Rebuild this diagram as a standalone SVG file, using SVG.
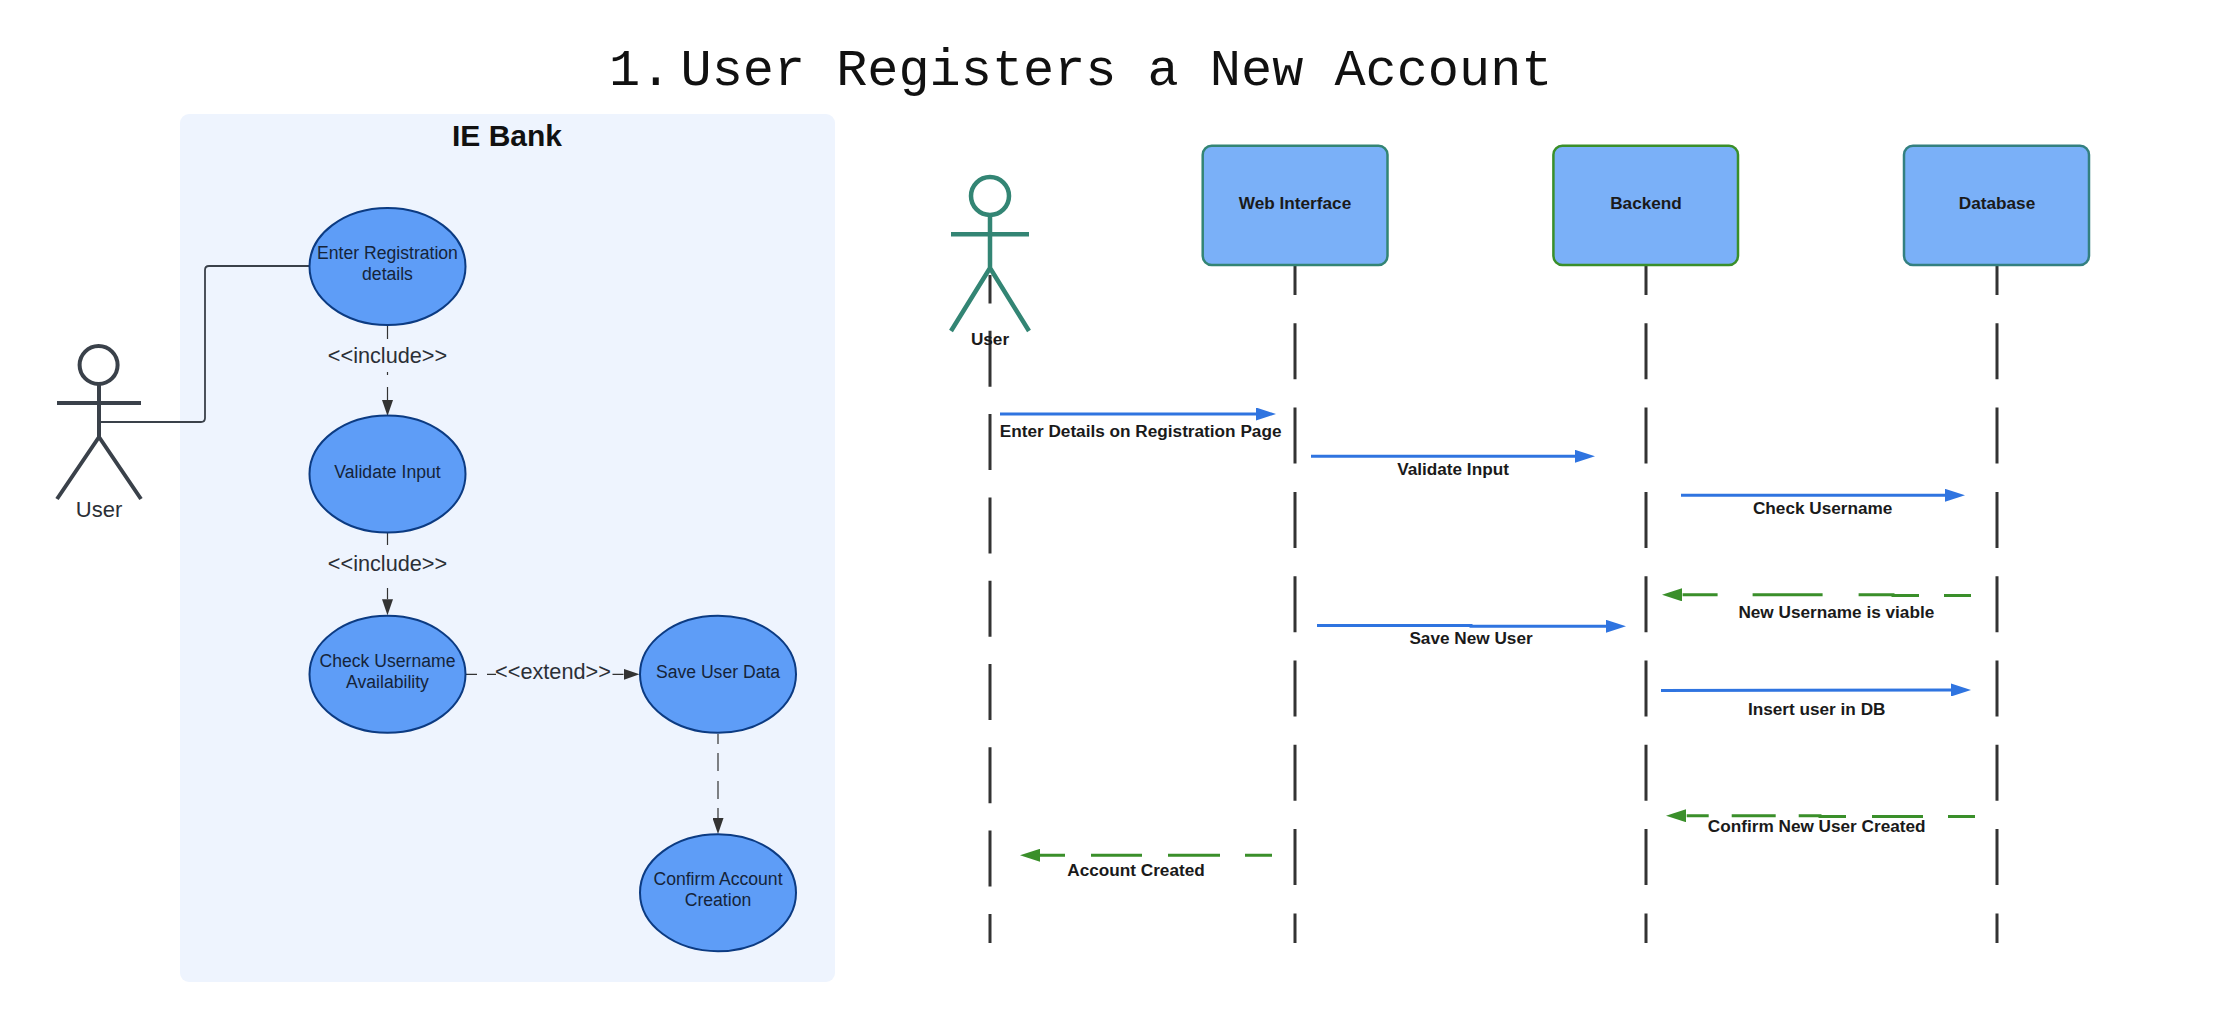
<svg xmlns="http://www.w3.org/2000/svg" width="2222" height="1022" viewBox="0 0 2222 1022">
<style>
text{font-family:"Liberation Sans",Arial,sans-serif;text-anchor:middle}
.title{font-family:"Liberation Mono","Courier New",monospace;font-size:51.9px;fill:#111;text-anchor:start}
.uc{fill:#5e9df7;stroke:#0c3b82;stroke-width:2}
.uct{font-size:17.6px;fill:#15243a}
.stereo{font-size:21.7px;fill:#2b2f36}
.ln{fill:none;stroke:#333;stroke-width:1.2}
.actor1{fill:none;stroke:#3a414a;stroke-width:4}
.actor2{fill:none;stroke:#338574;stroke-width:4.5}
.box{fill:#7ab0f8;stroke-width:2.5}
.b{font-size:17.2px;font-weight:bold;fill:#1a1a1a}
.life{stroke:#333;stroke-width:3;fill:none;stroke-dasharray:56 28.3}
.lifeu{stroke:#333;stroke-width:3;fill:none;stroke-dasharray:56 27.3}
.blue{stroke:#2f74e0;stroke-width:3;fill:none;marker-end:url(#mb)}
.green{stroke:#3a8f2a;stroke-width:3;fill:none;marker-end:url(#mg)}
</style>
<defs>
<marker id="md" markerUnits="userSpaceOnUse" markerWidth="16" markerHeight="11" refX="0" refY="5.5" orient="auto"><path d="M0 0L16 5.5L0 11z" fill="#333"/></marker>
<marker id="mb" markerUnits="userSpaceOnUse" markerWidth="20" markerHeight="13" refX="0" refY="6.5" orient="auto"><path d="M0 0L20 6.5L0 13z" fill="#2f74e0"/></marker>
<marker id="mg" markerUnits="userSpaceOnUse" markerWidth="20" markerHeight="13" refX="0" refY="6.5" orient="auto"><path d="M0 0L20 6.5L0 13z" fill="#3a8f2a"/></marker>
</defs>
<rect width="2222" height="1022" fill="#fff"/>
<text class="title" y="85"><tspan x="609">1.</tspan><tspan x="680.5">User Registers a New Account</tspan></text>
<g id="system"><rect x="180" y="114" width="655" height="868" rx="9" fill="#eef4fe"/><text x="507" y="146" font-size="30" font-weight="bold" fill="#111">IE Bank</text></g>

<g id="connectors">
<path class="ln" style="stroke:#3a414a;stroke-width:1.8" d="M101 422H201Q205 422 205 418V270Q205 266 209 266H310"/>
<line class="ln" x1="387.5" y1="326" x2="387.5" y2="400" stroke-dasharray="13 33 3 12 14" marker-end="url(#md)"/>
<line class="ln" x1="387.5" y1="533" x2="387.5" y2="599.3" stroke-dasharray="12 43 12" marker-end="url(#md)"/>
<line class="ln" x1="466" y1="674.3" x2="623.5" y2="674.3" stroke-dasharray="11 10 9 116.5 11" marker-end="url(#md)"/>
<line class="ln" x1="718" y1="734" x2="718" y2="818" stroke-dasharray="10 9 18 10 18 9 10" marker-end="url(#md)"/>
<line class="lifeu" x1="990" y1="275" x2="990" y2="943" stroke-dashoffset="27.5"/>
<line class="life" x1="1295" y1="266" x2="1295" y2="943" stroke-dashoffset="27"/>
<line class="life" x1="1646" y1="266" x2="1646" y2="943" stroke-dashoffset="27"/>
<line class="life" x1="1997" y1="266" x2="1997" y2="943" stroke-dashoffset="27"/>
<line class="blue" x1="1000" y1="414" x2="1256" y2="414"/>
<line class="blue" x1="1311" y1="456.3" x2="1575" y2="456.3"/>
<line class="blue" x1="1681" y1="495.3" x2="1945" y2="495.3"/>
<path class="green" d="M1971 595.4H1893V594.8H1682" stroke-dasharray="27 25 61 36 70 35 35"/>
<path class="blue" d="M1317 625.4H1471V626.3H1606"/>
<line class="blue" x1="1661" y1="690.4" x2="1951" y2="690"/>
<path class="green" d="M1975 816.4H1820V815.7H1686" stroke-dasharray="27 25 51 26 48 23 44 23 22"/>
<path class="green" d="M1272 855.3H1040" stroke-dasharray="27 25 52 26 51 26 25"/>
</g>

<g id="actor-user"><circle class="actor1" cx="98.6" cy="365" r="19"/><path class="actor1" d="M57 403H141M99 384V437L57 499M99 437L141 499"/><text x="99" y="517" font-size="22" fill="#2b2f36">User</text></g>
<g id="uc-enter"><ellipse class="uc" cx="387.5" cy="266.5" rx="78" ry="58.5"/><text class="uct" x="387.5" y="259">Enter Registration</text><text class="uct" x="387.5" y="280">details</text></g>
<g id="uc-validate"><ellipse class="uc" cx="387.5" cy="474" rx="78" ry="58.5"/><text class="uct" x="387.5" y="478">Validate Input</text></g>
<g id="uc-check"><ellipse class="uc" cx="387.5" cy="674.3" rx="78" ry="58.5"/><text class="uct" x="387.5" y="667">Check Username</text><text class="uct" x="387.5" y="688">Availability</text></g>
<g id="uc-save"><ellipse class="uc" cx="718" cy="674.3" rx="78" ry="58.5"/><text class="uct" x="718" y="678">Save User Data</text></g>
<g id="uc-confirm"><ellipse class="uc" cx="718" cy="892.7" rx="78" ry="58.5"/><text class="uct" x="718" y="885">Confirm Account</text><text class="uct" x="718" y="906">Creation</text></g>
<g id="labels-uc">
<text class="stereo" x="387.5" y="363">&lt;&lt;include&gt;&gt;</text>
<text class="stereo" x="387.5" y="571">&lt;&lt;include&gt;&gt;</text>
<text class="stereo" x="553" y="679">&lt;&lt;extend&gt;&gt;</text>
</g>

<g id="actor-seq"><circle class="actor2" cx="990" cy="196" r="19"/><path class="actor2" d="M951 234.3H1029M990 215V268L951 331M990 268L1029 331"/><text class="b" x="990" y="345">User</text></g>
<g id="seq-web"><rect class="box" x="1202.7" y="145.7" width="184.8" height="119.3" rx="9" stroke="#338574"/><text class="b" x="1295" y="209">Web Interface</text></g>
<g id="seq-backend"><rect class="box" x="1553.4" y="145.7" width="184.6" height="119.3" rx="9" stroke="#3a8f2a"/><text class="b" x="1646" y="209">Backend</text></g>
<g id="seq-db"><rect class="box" x="1904" y="145.7" width="185" height="119.3" rx="9" stroke="#338080"/><text class="b" x="1997" y="209">Database</text></g>
<g id="labels-seq">
<text class="b" x="1140.6" y="436.7">Enter Details on Registration Page</text>
<text class="b" x="1453" y="474.7">Validate Input</text>
<text class="b" x="1822.7" y="513.7">Check Username</text>
<text class="b" x="1836.3" y="618.3">New Username is viable</text>
<text class="b" x="1471" y="644.3">Save New User</text>
<text class="b" x="1816.7" y="715.3">Insert user in DB</text>
<text class="b" x="1816.7" y="832.3">Confirm New User Created</text>
<text class="b" x="1136" y="875.7">Account Created</text>
</g>
</svg>
